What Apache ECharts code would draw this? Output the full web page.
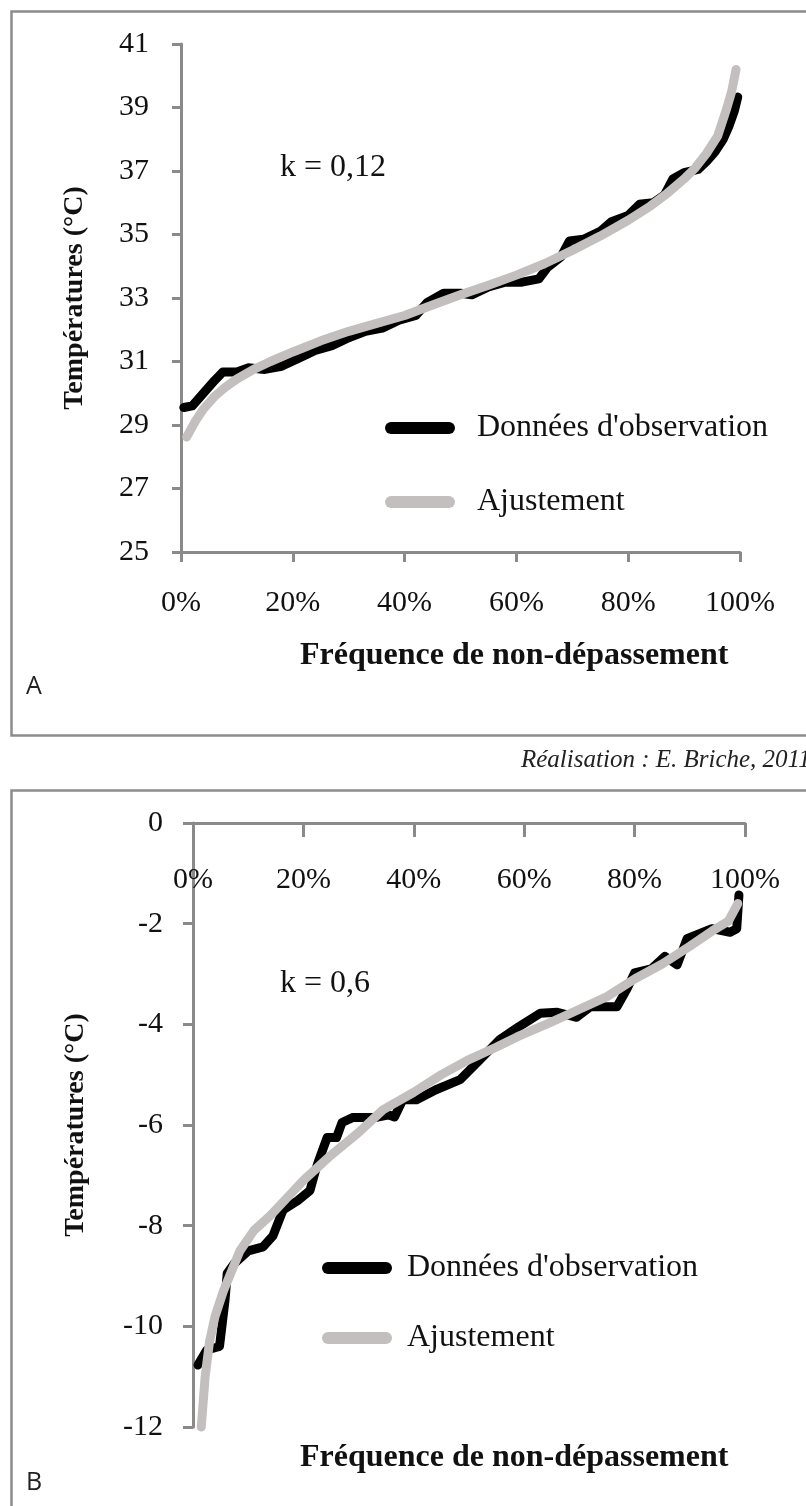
<!DOCTYPE html>
<html>
<head>
<meta charset="utf-8">
<script src="https://cdn.jsdelivr.net/npm/echarts@6/dist/echarts.min.js"></script>
<style>
  html, body { margin: 0; padding: 0; background: #ffffff; }
  #chart { width: 806px; height: 1506px; }
</style>
</head>
<body>
<div id="chart"></div>
<script>
// Panel A: maximum temperatures, k = 0,12
const freqObsA = [0.005, 0.02, 0.04, 0.06, 0.075, 0.10, 0.12, 0.15, 0.18, 0.21, 0.24, 0.27, 0.30, 0.33, 0.36, 0.39, 0.42, 0.44, 0.47, 0.50, 0.52, 0.55, 0.58, 0.61, 0.64, 0.655, 0.68, 0.695, 0.72, 0.75, 0.77, 0.80, 0.82, 0.845, 0.865, 0.88, 0.90, 0.925, 0.94, 0.955, 0.97, 0.98, 0.99, 0.996];
const tempObsA = [29.55, 29.6, 30.0, 30.4, 30.67, 30.67, 30.8, 30.75, 30.85, 31.1, 31.35, 31.5, 31.75, 31.95, 32.05, 32.3, 32.45, 32.85, 33.15, 33.15, 33.1, 33.35, 33.5, 33.5, 33.6, 33.95, 34.3, 34.8, 34.85, 35.1, 35.4, 35.6, 35.95, 36.0, 36.25, 36.75, 36.95, 37.05, 37.3, 37.6, 38.0, 38.4, 38.9, 39.33];
const freqFitA = [0.01, 0.025, 0.04, 0.06, 0.08, 0.10, 0.13, 0.16, 0.20, 0.25, 0.30, 0.35, 0.40, 0.45, 0.50, 0.55, 0.60, 0.65, 0.70, 0.75, 0.80, 0.84, 0.87, 0.90, 0.92, 0.94, 0.96, 0.975, 0.985, 0.993];
const tempFitA = [28.62, 29.1, 29.5, 29.9, 30.2, 30.45, 30.75, 31.0, 31.3, 31.65, 31.95, 32.2, 32.45, 32.78, 33.1, 33.4, 33.72, 34.08, 34.5, 34.95, 35.45, 35.9, 36.3, 36.75, 37.1, 37.55, 38.1, 38.9, 39.5, 40.2];
const yTicksA = [25, 27, 29, 31, 33, 35, 37, 39, 41];

// Panel B: minimum temperatures, k = 0,6
const freqObsB = [0.009, 0.025, 0.048, 0.058, 0.062, 0.075, 0.10, 0.127, 0.145, 0.163, 0.19, 0.212, 0.222, 0.228, 0.243, 0.26, 0.27, 0.29, 0.33, 0.355, 0.365, 0.38, 0.405, 0.44, 0.484, 0.52, 0.556, 0.59, 0.629, 0.66, 0.695, 0.72, 0.768, 0.786, 0.80, 0.83, 0.855, 0.877, 0.895, 0.94, 0.973, 0.985, 0.989];
const tempObsB = [-10.77, -10.47, -10.4, -9.48, -8.95, -8.75, -8.5, -8.42, -8.2, -7.69, -7.5, -7.3, -6.9, -6.7, -6.25, -6.25, -5.95, -5.85, -5.85, -5.8, -5.84, -5.5, -5.5, -5.3, -5.1, -4.7, -4.3, -4.05, -3.78, -3.76, -3.86, -3.65, -3.65, -3.3, -2.98, -2.9, -2.65, -2.82, -2.3, -2.1, -2.17, -2.1, -1.43];
const freqFitB = [0.015, 0.022, 0.03, 0.04, 0.055, 0.07, 0.085, 0.11, 0.14, 0.17, 0.20, 0.25, 0.30, 0.344, 0.40, 0.45, 0.50, 0.55, 0.587, 0.65, 0.70, 0.75, 0.80, 0.85, 0.90, 0.94, 0.97, 0.987];
const tempFitB = [-12.0, -11.0, -10.3, -9.8, -9.3, -8.9, -8.5, -8.1, -7.8, -7.45, -7.1, -6.6, -6.15, -5.7, -5.35, -5.0, -4.7, -4.45, -4.25, -3.95, -3.7, -3.45, -3.1, -2.8, -2.45, -2.15, -1.95, -1.6];
const yTicksB = [-12, -10, -8, -6, -4, -2, 0];

const xTicks = [0, 0.2, 0.4, 0.6, 0.8, 1];

const SERIF = "'Liberation Serif', 'DejaVu Serif', serif";
const AXIS_GREY = '#8a8a8a';
const OBS_COLOR = '#000000';
const FIT_COLOR = '#c3bfbf';
const NAME_OBS = "Données d'observation";
const NAME_FIT = 'Ajustement';

const pairs = (xs, ys) => xs.map((x, i) => [x, ys[i]]);
const pct = v => Math.round(v * 100) + '%';

function lineSeries(name, color, xs, ys, idx) {
  return {
    name: name,
    type: 'line',
    xAxisIndex: idx,
    yAxisIndex: idx,
    data: pairs(xs, ys),
    showSymbol: false,
    symbol: 'none',
    clip: false,
    silent: true,
    color: color,
    lineStyle: { color: color, width: 9, cap: 'round', join: 'round' },
    animation: false
  };
}

const legendIcon = 'path://M6,0 H64 A6,6 0 0 1 64,12 H6 A6,6 0 0 1 6,0 Z';

const option = {
  backgroundColor: '#ffffff',
  animation: false,
  textStyle: { fontFamily: SERIF },
  grid: [
    { left: 181, top: 44, width: 559, height: 508, containLabel: false },
    { left: 193, top: 823, width: 552, height: 604, containLabel: false }
  ],
  xAxis: [
    {
      type: 'value', gridIndex: 0, min: 0, max: 1, position: 'bottom',
      splitLine: { show: false },
      axisLine: { lineStyle: { color: AXIS_GREY, width: 3 } },
      axisTick: { customValues: xTicks, length: 10, lineStyle: { color: AXIS_GREY, width: 3 } },
      axisLabel: { customValues: xTicks, formatter: pct, margin: 36, color: '#111', fontSize: 30, fontFamily: SERIF }
    },
    {
      type: 'value', gridIndex: 1, min: 0, max: 1, position: 'top',
      splitLine: { show: false },
      axisLine: { lineStyle: { color: AXIS_GREY, width: 3 } },
      axisTick: { customValues: xTicks, inside: true, length: 14, lineStyle: { color: AXIS_GREY, width: 3 } },
      axisLabel: { customValues: xTicks, inside: true, formatter: pct, margin: 42, color: '#111', fontSize: 30, fontFamily: SERIF }
    }
  ],
  yAxis: [
    {
      type: 'value', gridIndex: 0, min: 25, max: 41,
      name: 'Températures (°C)', nameLocation: 'middle', nameGap: 92,
      nameTextStyle: { fontSize: 28, fontWeight: 'bold', color: '#111', fontFamily: SERIF },
      splitLine: { show: false },
      axisLine: { show: true, lineStyle: { color: AXIS_GREY, width: 3 } },
      axisTick: { show: true, customValues: yTicksA, length: 9, lineStyle: { color: AXIS_GREY, width: 3 } },
      axisLabel: { customValues: yTicksA, margin: 32, color: '#111', fontSize: 30, fontFamily: SERIF }
    },
    {
      type: 'value', gridIndex: 1, min: -12, max: 0,
      name: 'Températures (°C)', nameLocation: 'middle', nameGap: 103,
      nameTextStyle: { fontSize: 28, fontWeight: 'bold', color: '#111', fontFamily: SERIF },
      splitLine: { show: false },
      axisLine: { show: true, onZero: false, lineStyle: { color: AXIS_GREY, width: 3 } },
      axisTick: { show: true, customValues: yTicksB, length: 10, lineStyle: { color: AXIS_GREY, width: 3 } },
      axisLabel: { customValues: yTicksB, margin: 30, color: '#111', fontSize: 30, fontFamily: SERIF }
    }
  ],
  legend: [
    {
      orient: 'vertical', left: 385, top: 410, padding: 0,
      itemWidth: 70, itemHeight: 12, itemGap: 38, icon: legendIcon,
      selectedMode: false,
      data: [
        { name: NAME_OBS, itemStyle: { color: OBS_COLOR } },
        { name: NAME_FIT, itemStyle: { color: FIT_COLOR } }
      ],
      textStyle: { fontSize: 32, lineHeight: 36, color: '#111', fontFamily: SERIF, padding: [0, 0, 0, 17] }
    },
    {
      orient: 'vertical', left: 322, top: 1250, padding: 0,
      itemWidth: 70, itemHeight: 12, itemGap: 34, icon: legendIcon,
      selectedMode: false,
      data: [
        { name: NAME_OBS, itemStyle: { color: OBS_COLOR } },
        { name: NAME_FIT, itemStyle: { color: FIT_COLOR } }
      ],
      textStyle: { fontSize: 32, lineHeight: 36, color: '#111', fontFamily: SERIF, padding: [0, 0, 0, 10] }
    }
  ],
  graphic: [
    // panel frames
    { type: 'rect', left: 9, top: 9, shape: { width: 830, height: 724 }, style: { fill: 'none', stroke: '#8c8c8c', lineWidth: 2.5 }, silent: true },
    { type: 'rect', left: 9, top: 788, shape: { width: 830, height: 760 }, style: { fill: 'none', stroke: '#8c8c8c', lineWidth: 2.5 }, silent: true },
    // parameter labels
    { type: 'text', left: 280, top: 152, style: { text: 'k = 0,12', font: '32px ' + SERIF, fill: '#111' } },
    { type: 'text', left: 280, top: 968, style: { text: 'k = 0,6', font: '32px ' + SERIF, fill: '#111' } },
    // x axis titles
    { type: 'text', left: 300, top: 640, style: { text: 'Fréquence de non-dépassement', font: 'bold 32px ' + SERIF, fill: '#111' } },
    { type: 'text', left: 300, top: 1442, style: { text: 'Fréquence de non-dépassement', font: 'bold 32px ' + SERIF, fill: '#111' } },
    // panel letters
    { type: 'text', left: 26, top: 674, style: { text: 'A', font: '25px "Open Sans", sans-serif', fill: '#222' } },
    { type: 'text', left: 26, top: 1470, style: { text: 'B', font: '25px "Open Sans", sans-serif', fill: '#222' } },
    // credit line
    { type: 'text', left: 521, top: 748, style: { text: 'Réalisation : E. Briche, 2011', font: 'italic 25px ' + SERIF, fill: '#222' } }
  ],
  series: [
    lineSeries(NAME_OBS, OBS_COLOR, freqObsA, tempObsA, 0),
    lineSeries(NAME_FIT, FIT_COLOR, freqFitA, tempFitA, 0),
    lineSeries(NAME_OBS, OBS_COLOR, freqObsB, tempObsB, 1),
    lineSeries(NAME_FIT, FIT_COLOR, freqFitB, tempFitB, 1)
  ]
};

const chart = echarts.init(document.getElementById('chart'), null, { renderer: 'canvas' });
chart.setOption(option);
</script>
</body>
</html>
